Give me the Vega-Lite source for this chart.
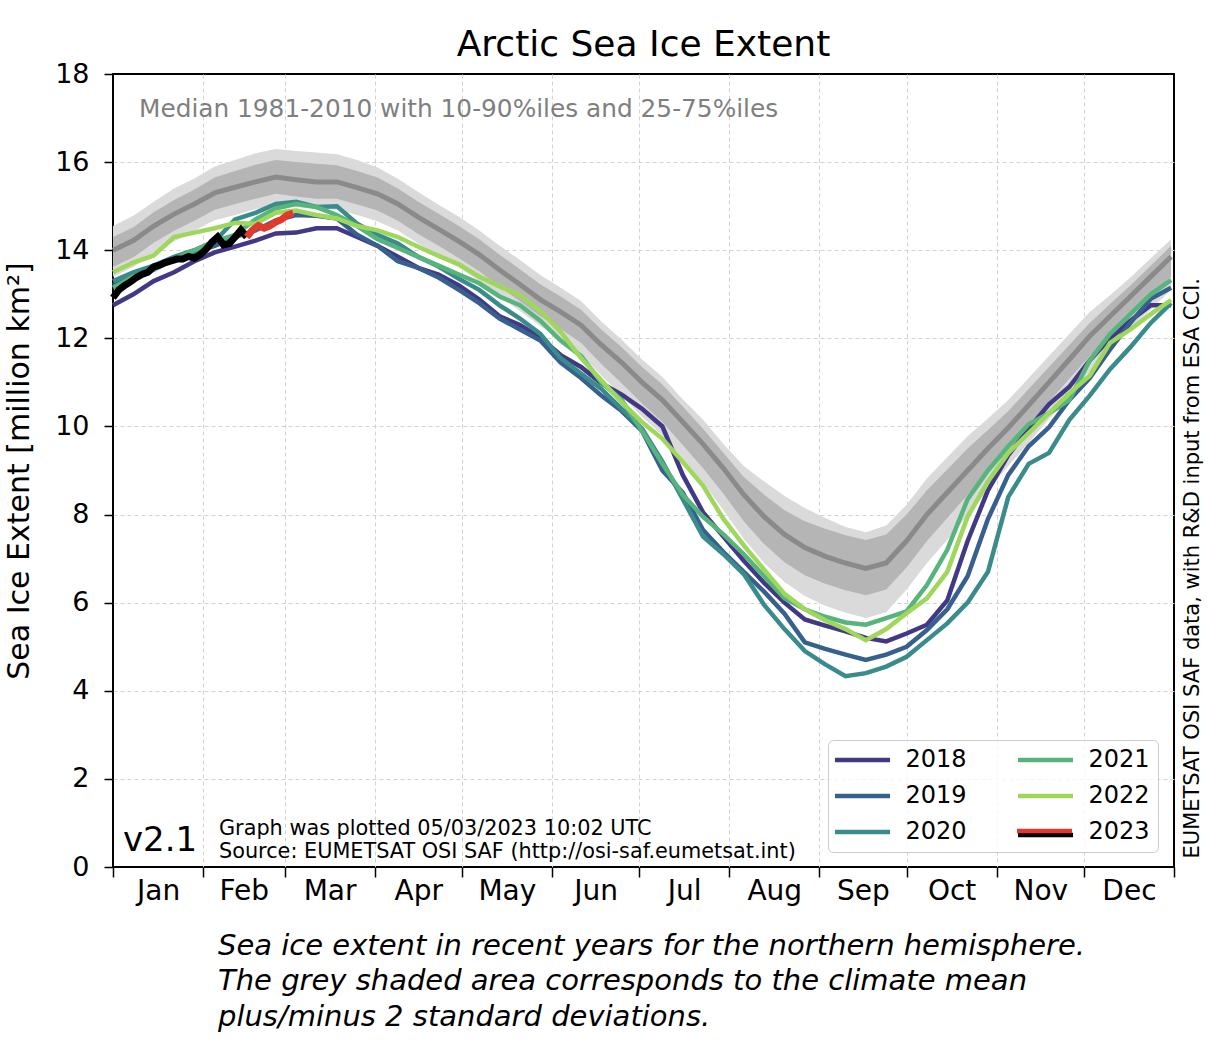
{
  "$schema": "https://vega.github.io/schema/vega-lite/v6.json",
  "width": 1061,
  "height": 793,
  "autosize": {"type": "none"},
  "padding": {"left": 113, "top": 74, "right": 38, "bottom": 191},
  "background": "white",
  "title": {"text": "Arctic Sea Ice Extent", "fontSize": 36, "fontWeight": "normal", "font": "DejaVu Sans", "color": "black", "anchor": "middle", "frame": "group", "offset": -4},
  "config": {
    "font": "DejaVu Sans",
    "view": {"stroke": "black", "strokeWidth": 2},
    "axis": {"labelFont": "DejaVu Sans", "titleFont": "DejaVu Sans"},
    "legend": {"labelFont": "DejaVu Sans"}
  },
  "datasets": {
    "climate": [
      {"d": 1, "p10": 13.4, "p25": 13.62, "med": 14.0, "p75": 14.3, "p90": 14.55},
      {"d": 8, "p10": 13.62, "p25": 13.84, "med": 14.22, "p75": 14.52, "p90": 14.78},
      {"d": 15, "p10": 13.93, "p25": 14.17, "med": 14.55, "p75": 14.86, "p90": 15.1},
      {"d": 22, "p10": 14.2, "p25": 14.44, "med": 14.82, "p75": 15.14, "p90": 15.4},
      {"d": 29, "p10": 14.44, "p25": 14.67, "med": 15.05, "p75": 15.38, "p90": 15.63},
      {"d": 36, "p10": 14.68, "p25": 14.92, "med": 15.3, "p75": 15.65, "p90": 15.9},
      {"d": 43, "p10": 14.8, "p25": 15.05, "med": 15.43, "p75": 15.8, "p90": 16.05},
      {"d": 50, "p10": 14.93, "p25": 15.17, "med": 15.55, "p75": 15.94, "p90": 16.2},
      {"d": 57, "p10": 15.04, "p25": 15.28, "med": 15.66, "p75": 16.05, "p90": 16.3},
      {"d": 64, "p10": 14.98, "p25": 15.22, "med": 15.6, "p75": 16.0, "p90": 16.25},
      {"d": 71, "p10": 14.93, "p25": 15.17, "med": 15.55, "p75": 15.96, "p90": 16.22},
      {"d": 78, "p10": 14.92, "p25": 15.17, "med": 15.55, "p75": 15.93, "p90": 16.18},
      {"d": 85, "p10": 14.8, "p25": 15.04, "med": 15.42, "p75": 15.8, "p90": 16.05},
      {"d": 92, "p10": 14.66, "p25": 14.9, "med": 15.28, "p75": 15.65, "p90": 15.88},
      {"d": 99, "p10": 14.45, "p25": 14.67, "med": 15.05, "p75": 15.4, "p90": 15.62},
      {"d": 106, "p10": 14.15, "p25": 14.37, "med": 14.75, "p75": 15.1, "p90": 15.32},
      {"d": 113, "p10": 13.88, "p25": 14.1, "med": 14.48, "p75": 14.83, "p90": 15.03},
      {"d": 120, "p10": 13.6, "p25": 13.82, "med": 14.2, "p75": 14.55, "p90": 14.76},
      {"d": 127, "p10": 13.3, "p25": 13.52, "med": 13.9, "p75": 14.25, "p90": 14.45},
      {"d": 134, "p10": 12.95, "p25": 13.17, "med": 13.55, "p75": 13.9, "p90": 14.1},
      {"d": 141, "p10": 12.62, "p25": 12.84, "med": 13.22, "p75": 13.57, "p90": 13.78},
      {"d": 148, "p10": 12.28, "p25": 12.5, "med": 12.88, "p75": 13.23, "p90": 13.44},
      {"d": 155, "p10": 11.98, "p25": 12.21, "med": 12.6, "p75": 12.95, "p90": 13.15},
      {"d": 162, "p10": 11.65, "p25": 11.9, "med": 12.3, "p75": 12.65, "p90": 12.85},
      {"d": 169, "p10": 11.15, "p25": 11.42, "med": 11.85, "p75": 12.2, "p90": 12.38},
      {"d": 176, "p10": 10.7, "p25": 10.98, "med": 11.45, "p75": 11.8, "p90": 11.97},
      {"d": 183, "p10": 10.22, "p25": 10.52, "med": 11.0, "p75": 11.35, "p90": 11.52},
      {"d": 190, "p10": 9.8, "p25": 10.1, "med": 10.6, "p75": 10.95, "p90": 11.12},
      {"d": 197, "p10": 9.28, "p25": 9.58, "med": 10.1, "p75": 10.45, "p90": 10.62},
      {"d": 204, "p10": 8.72, "p25": 9.05, "med": 9.6, "p75": 9.95, "p90": 10.15},
      {"d": 211, "p10": 8.1, "p25": 8.47, "med": 9.05, "p75": 9.4, "p90": 9.6},
      {"d": 218, "p10": 7.45, "p25": 7.85, "med": 8.45, "p75": 8.85, "p90": 9.1},
      {"d": 225, "p10": 6.9, "p25": 7.33, "med": 7.95, "p75": 8.45, "p90": 8.75},
      {"d": 232, "p10": 6.47, "p25": 6.92, "med": 7.55, "p75": 8.1, "p90": 8.42},
      {"d": 239, "p10": 6.15, "p25": 6.62, "med": 7.25, "p75": 7.85, "p90": 8.15},
      {"d": 246, "p10": 5.93, "p25": 6.43, "med": 7.05, "p75": 7.68, "p90": 7.92},
      {"d": 253, "p10": 5.77, "p25": 6.28, "med": 6.9, "p75": 7.53, "p90": 7.72},
      {"d": 260, "p10": 5.65, "p25": 6.17, "med": 6.78, "p75": 7.42, "p90": 7.6},
      {"d": 267, "p10": 5.78, "p25": 6.3, "med": 6.9, "p75": 7.55, "p90": 7.75},
      {"d": 274, "p10": 6.3, "p25": 6.8, "med": 7.4, "p75": 8.0, "p90": 8.22},
      {"d": 281, "p10": 6.9, "p25": 7.4, "med": 8.0, "p75": 8.55, "p90": 8.82},
      {"d": 288, "p10": 7.42, "p25": 7.92, "med": 8.5, "p75": 9.02, "p90": 9.3},
      {"d": 295, "p10": 7.98, "p25": 8.45, "med": 9.0, "p75": 9.5, "p90": 9.78},
      {"d": 302, "p10": 8.55, "p25": 9.0, "med": 9.5, "p75": 9.92, "p90": 10.18},
      {"d": 309, "p10": 9.1, "p25": 9.52, "med": 9.97, "p75": 10.35, "p90": 10.6},
      {"d": 316, "p10": 9.63, "p25": 10.03, "med": 10.48, "p75": 10.85, "p90": 11.1},
      {"d": 323, "p10": 10.17, "p25": 10.56, "med": 11.0, "p75": 11.35, "p90": 11.6},
      {"d": 330, "p10": 10.7, "p25": 11.08, "med": 11.52, "p75": 11.85, "p90": 12.1},
      {"d": 337, "p10": 11.25, "p25": 11.6, "med": 12.05, "p75": 12.35, "p90": 12.6},
      {"d": 344, "p10": 11.73, "p25": 12.05, "med": 12.5, "p75": 12.78, "p90": 12.98},
      {"d": 351, "p10": 12.2, "p25": 12.5, "med": 12.95, "p75": 13.2, "p90": 13.38},
      {"d": 358, "p10": 12.65, "p25": 12.95, "med": 13.4, "p75": 13.65, "p90": 13.82},
      {"d": 365, "p10": 13.1, "p25": 13.4, "med": 13.85, "p75": 14.1, "p90": 14.25}
    ],
    "years": [
      {"d": 1, "2018": 12.75, "2019": 13.2, "2020": 13.3, "2021": 13.15, "2022": 13.5},
      {"d": 8, "2018": 13.0, "2019": 13.4, "2020": 13.5, "2021": 13.4, "2022": 13.72},
      {"d": 15, "2018": 13.3, "2019": 13.58, "2020": 13.65, "2021": 13.55, "2022": 13.88},
      {"d": 22, "2018": 13.5, "2019": 13.78, "2020": 13.85, "2021": 13.8, "2022": 14.3},
      {"d": 29, "2018": 13.75, "2019": 13.95, "2020": 14.0, "2021": 14.0, "2022": 14.4},
      {"d": 36, "2018": 13.95, "2019": 14.1, "2020": 14.2, "2021": 14.2, "2022": 14.5},
      {"d": 43, "2018": 14.08, "2019": 14.3, "2020": 14.7, "2021": 14.35, "2022": 14.62},
      {"d": 50, "2018": 14.22, "2019": 14.45, "2020": 14.85, "2021": 14.7, "2022": 14.6},
      {"d": 57, "2018": 14.38, "2019": 14.68, "2020": 15.05, "2021": 14.95, "2022": 14.85},
      {"d": 64, "2018": 14.4, "2019": 14.8, "2020": 15.1, "2021": 15.05, "2022": 14.9},
      {"d": 71, "2018": 14.5, "2019": 14.78, "2020": 14.98, "2021": 14.98, "2022": 14.8},
      {"d": 78, "2018": 14.5, "2019": 14.72, "2020": 15.0, "2021": 14.8, "2022": 14.72},
      {"d": 85, "2018": 14.3, "2019": 14.35, "2020": 14.6, "2021": 14.55, "2022": 14.55},
      {"d": 92, "2018": 14.1, "2019": 14.1, "2020": 14.35, "2021": 14.25, "2022": 14.45},
      {"d": 99, "2018": 13.85, "2019": 13.75, "2020": 14.15, "2021": 14.05, "2022": 14.3},
      {"d": 106, "2018": 13.6, "2019": 13.6, "2020": 13.85, "2021": 13.85, "2022": 14.08},
      {"d": 113, "2018": 13.45, "2019": 13.38, "2020": 13.63, "2021": 13.65, "2022": 13.87},
      {"d": 120, "2018": 13.2, "2019": 13.1, "2020": 13.35, "2021": 13.45, "2022": 13.68},
      {"d": 127, "2018": 12.88, "2019": 12.8, "2020": 13.1, "2021": 13.25, "2022": 13.4},
      {"d": 134, "2018": 12.5, "2019": 12.45, "2020": 12.75, "2021": 12.95, "2022": 13.18},
      {"d": 141, "2018": 12.3, "2019": 12.2, "2020": 12.45, "2021": 12.75, "2022": 12.98},
      {"d": 148, "2018": 12.02, "2019": 11.95, "2020": 12.1, "2021": 12.4, "2022": 12.62},
      {"d": 155, "2018": 11.62, "2019": 11.45, "2020": 11.55, "2021": 11.95, "2022": 12.15},
      {"d": 162, "2018": 11.35, "2019": 11.1, "2020": 11.2, "2021": 11.6, "2022": 11.55},
      {"d": 169, "2018": 10.98, "2019": 10.7, "2020": 10.85, "2021": 11.0, "2022": 11.05},
      {"d": 176, "2018": 10.72, "2019": 10.35, "2020": 10.4, "2021": 10.6, "2022": 10.55},
      {"d": 183, "2018": 10.4, "2019": 9.9, "2020": 9.95, "2021": 9.9, "2022": 10.1},
      {"d": 190, "2018": 10.0, "2019": 9.0, "2020": 9.2, "2021": 9.15, "2022": 9.72},
      {"d": 197, "2018": 8.9, "2019": 8.5, "2020": 8.35, "2021": 8.45, "2022": 9.2},
      {"d": 204, "2018": 8.05, "2019": 7.65, "2020": 7.5, "2021": 7.95, "2022": 8.65},
      {"d": 211, "2018": 7.5, "2019": 7.15, "2020": 7.1, "2021": 7.55, "2022": 7.9},
      {"d": 218, "2018": 6.95, "2019": 6.7, "2020": 6.65, "2021": 7.1, "2022": 7.3},
      {"d": 225, "2018": 6.45, "2019": 6.25, "2020": 5.95, "2021": 6.6, "2022": 6.75},
      {"d": 232, "2018": 6.0, "2019": 5.75, "2020": 5.4, "2021": 6.1, "2022": 6.2},
      {"d": 239, "2018": 5.62, "2019": 5.1, "2020": 4.9, "2021": 5.85, "2022": 5.85},
      {"d": 246, "2018": 5.48, "2019": 4.95, "2020": 4.6, "2021": 5.68, "2022": 5.6},
      {"d": 253, "2018": 5.35, "2019": 4.82, "2020": 4.33, "2021": 5.55, "2022": 5.4},
      {"d": 260, "2018": 5.2, "2019": 4.7, "2020": 4.4, "2021": 5.5, "2022": 5.15},
      {"d": 267, "2018": 5.12, "2019": 4.82, "2020": 4.55, "2021": 5.65, "2022": 5.4},
      {"d": 274, "2018": 5.3, "2019": 5.0, "2020": 4.77, "2021": 5.8, "2022": 5.76},
      {"d": 281, "2018": 5.5, "2019": 5.38, "2020": 5.15, "2021": 6.4, "2022": 6.1},
      {"d": 288, "2018": 6.05, "2019": 5.85, "2020": 5.53, "2021": 7.2, "2022": 6.7},
      {"d": 295, "2018": 7.4, "2019": 6.6, "2020": 6.0, "2021": 8.35, "2022": 7.95},
      {"d": 302, "2018": 8.55, "2019": 7.9, "2020": 6.7, "2021": 9.0, "2022": 8.75},
      {"d": 309, "2018": 9.35, "2019": 8.9, "2020": 8.4, "2021": 9.55, "2022": 9.4},
      {"d": 316, "2018": 9.95, "2019": 9.55, "2020": 9.15, "2021": 10.05, "2022": 9.85},
      {"d": 323, "2018": 10.5, "2019": 9.98, "2020": 9.4, "2021": 10.3, "2022": 10.3},
      {"d": 330, "2018": 10.9, "2019": 10.6, "2020": 10.15, "2021": 10.6, "2022": 10.75},
      {"d": 337, "2018": 11.5, "2019": 11.1, "2020": 10.7, "2021": 11.5, "2022": 11.15},
      {"d": 344, "2018": 12.0, "2019": 11.75, "2020": 11.3, "2021": 12.1, "2022": 11.9},
      {"d": 351, "2018": 12.4, "2019": 12.35, "2020": 11.8, "2021": 12.55, "2022": 12.2},
      {"d": 358, "2018": 12.75, "2019": 12.9, "2020": 12.35, "2021": 13.0, "2022": 12.55},
      {"d": 365, "2018": 12.75, "2019": 13.15, "2020": 12.8, "2021": 13.32, "2022": 12.87}
    ],
    "y2023": [
      {"d": 1, "v": 12.92}, {"d": 3, "v": 13.1}, {"d": 5, "v": 13.2}, {"d": 7, "v": 13.28},
      {"d": 9, "v": 13.38}, {"d": 11, "v": 13.45}, {"d": 13, "v": 13.5}, {"d": 15, "v": 13.62},
      {"d": 17, "v": 13.66}, {"d": 19, "v": 13.72}, {"d": 21, "v": 13.76}, {"d": 23, "v": 13.8},
      {"d": 25, "v": 13.8}, {"d": 27, "v": 13.86}, {"d": 29, "v": 13.82}, {"d": 31, "v": 13.9},
      {"d": 33, "v": 14.02}, {"d": 35, "v": 14.18}, {"d": 37, "v": 14.3}, {"d": 39, "v": 14.12},
      {"d": 41, "v": 14.15}, {"d": 43, "v": 14.3}, {"d": 45, "v": 14.46}, {"d": 47, "v": 14.3}
    ],
    "y2023nrt": [
      {"d": 47, "v": 14.3, "run": "2023 "}, {"d": 49, "v": 14.46, "run": "2023 "},
      {"d": 51, "v": 14.56, "run": "2023 "}, {"d": 53, "v": 14.5, "run": "2023 "},
      {"d": 55, "v": 14.55, "run": "2023 "}, {"d": 57, "v": 14.64, "run": "2023 "},
      {"d": 59, "v": 14.7, "run": "2023 "}, {"d": 61, "v": 14.8, "run": "2023 "},
      {"d": 63, "v": 14.84, "run": "2023 "}
    ]
  },
  "layer": [
    {
      "data": {"name": "climate"},
      "mark": {"type": "area", "color": "#dadada", "opacity": 1},
      "encoding": {
        "x": {
          "field": "d", "type": "quantitative",
          "scale": {"domain": [1, 366], "nice": false, "zero": false},
          "axis": {
            "orient": "bottom",
            "values": [1, 32, 60, 91, 121, 152, 182, 213, 244, 274, 305, 335, 366],
            "labels": false, "ticks": true, "tickSize": 10, "tickWidth": 1.5, "tickColor": "black",
            "domain": false, "grid": true, "gridDash": [4, 3], "gridColor": "#d2d2d2", "gridWidth": 1,
            "gridOpacity": {"condition": {"test": "datum.value <= 1 || datum.value >= 366", "value": 0}, "value": 1},
            "title": null
          }
        },
        "y": {
          "field": "p10", "type": "quantitative",
          "scale": {"domain": [0, 18], "nice": false, "zero": false},
          "axis": {
            "orient": "left",
            "values": [0, 2, 4, 6, 8, 10, 12, 14, 16, 18],
            "tickSize": 9, "tickWidth": 1.5, "tickColor": "black",
            "labelFontSize": 27, "labelColor": "black", "labelPadding": 15,
            "domain": false, "grid": true, "gridDash": [4, 3], "gridColor": "#d2d2d2", "gridWidth": 1,
            "gridOpacity": {"condition": {"test": "datum.value <= 0 || datum.value >= 18", "value": 0}, "value": 1},
            "title": "Sea Ice Extent [million km²]", "titleFontSize": 30, "titleFontWeight": "normal",
            "titleColor": "black", "titlePadding": 20
          }
        },
        "y2": {"field": "p90"}
      }
    },
    {
      "data": {"name": "climate"},
      "mark": {"type": "area", "color": "#b5b5b5", "opacity": 1},
      "encoding": {
        "x": {"field": "d", "type": "quantitative", "scale": {"domain": [1, 366], "nice": false, "zero": false}, "axis": null},
        "y": {"field": "p25", "type": "quantitative", "scale": {"domain": [0, 18], "nice": false, "zero": false}, "axis": null},
        "y2": {"field": "p75"}
      }
    },
    {
      "data": {"name": "climate"},
      "mark": {"type": "line", "color": "#8a8a8a", "strokeWidth": 5},
      "encoding": {
        "x": {
          "field": "d", "type": "quantitative",
          "scale": {"domain": [1, 366], "nice": false, "zero": false},
          "axis": {
            "orient": "bottom",
            "values": [16.5, 46, 75.5, 106, 136.5, 167, 197.5, 228.5, 259, 289.5, 320, 350.5],
            "labelExpr": "timeFormat(datetime(2021, 0, datum.value), '%b')",
            "ticks": false, "domain": false, "grid": false,
            "labelFontSize": 28, "labelColor": "black", "labelPadding": 10,
            "labelFlush": false, "labelOverlap": false, "title": null
          }
        },
        "y": {
          "field": "med", "type": "quantitative",
          "scale": {"domain": [0, 18], "nice": false, "zero": false},
          "axis": {
            "orient": "right", "labels": false, "ticks": false, "domain": false, "grid": false,
            "title": "EUMETSAT OSI SAF data, with R&D input from ESA CCI.",
            "titleAngle": 270, "titleFontSize": 21, "titleFontWeight": "normal", "titleColor": "black",
            "titleAnchor": "start", "titlePadding": 28, "titleY": 784
          }
        }
      }
    },
    {
      "data": {"name": "years"},
      "transform": [{"fold": ["2018", "2019", "2020", "2021", "2022"], "as": ["yr", "v"]}],
      "mark": {"type": "line", "strokeWidth": 4.5},
      "encoding": {
        "x": {"field": "d", "type": "quantitative", "scale": {"domain": [1, 366], "nice": false, "zero": false}, "axis": null},
        "y": {"field": "v", "type": "quantitative", "scale": {"domain": [0, 18], "nice": false, "zero": false}, "axis": null},
        "color": {
          "field": "yr", "type": "nominal",
          "scale": {
            "domain": ["2018", "2019", "2020", "2021", "2022", "2023"],
            "range": ["#413985", "#37608e", "#3a8b8b", "#58b47d", "#9fd75c", "#000000"]
          },
          "legend": {
            "orient": "none", "legendX": 715, "legendY": 666, "columns": 2, "title": null,
            "symbolSize": 100, "symbolStrokeWidth": 4.5, "symbolOffset": 14.5,
            "labelOffset": 31, "labelFontSize": 24, "labelColor": "black",
            "rowPadding": 12, "columnPadding": 42, "padding": 8,
            "fillColor": "rgba(255,255,255,0.8)", "strokeColor": "#cccccc", "cornerRadius": 5,
            "encode": {"symbols": {"update": {"shape": {"signal": "datum.value === '2023' ? 'M-5.5,0.6H5.5' : 'M-5.5,0H5.5'"}}}}
          }
        }
      }
    },
    {
      "data": {"name": "y2023"},
      "mark": {"type": "line", "strokeWidth": 7},
      "encoding": {
        "x": {"field": "d", "type": "quantitative", "scale": {"domain": [1, 366], "nice": false, "zero": false}, "axis": null},
        "y": {"field": "v", "type": "quantitative", "scale": {"domain": [0, 18], "nice": false, "zero": false}, "axis": null},
        "color": {"datum": "2023", "type": "nominal"}
      }
    },
    {
      "data": {"name": "y2023nrt"},
      "mark": {"type": "line", "strokeWidth": 7},
      "encoding": {
        "x": {"field": "d", "type": "quantitative", "scale": {"domain": [1, 366], "nice": false, "zero": false}, "axis": null},
        "y": {"field": "v", "type": "quantitative", "scale": {"domain": [0, 18], "nice": false, "zero": false}, "axis": null},
        "stroke": {
          "field": "run", "type": "nominal",
          "scale": {"domain": ["2023 "], "range": ["#e23a2a"]},
          "legend": {
            "orient": "none", "legendX": 897, "legendY": 743, "title": null, "zindex": 2,
            "symbolSize": 100, "symbolStrokeWidth": 4.5, "symbolOffset": 14.5, "symbolType": "M-5.5,-1.2H5.5",
            "labelExpr": "''", "labelOffset": 31, "labelFontSize": 24, "padding": 8
          }
        }
      }
    },
    {
      "data": {"values": [{"d": 9.94, "v": 17.02, "t": "Median 1981-2010 with 10-90%iles and 25-75%iles"}]},
      "mark": {"type": "text", "align": "left", "baseline": "alphabetic", "fontSize": 24.8, "color": "#7f7f7f"},
      "encoding": {
        "x": {"field": "d", "type": "quantitative", "scale": {"domain": [1, 366], "nice": false, "zero": false}, "axis": null},
        "y": {"field": "v", "type": "quantitative", "scale": {"domain": [0, 18], "nice": false, "zero": false}, "axis": null},
        "text": {"field": "t"}
      }
    },
    {
      "data": {"values": [{"d": 4.44, "v": 0.36, "t": "v2.1"}]},
      "mark": {"type": "text", "align": "left", "baseline": "alphabetic", "fontSize": 34, "color": "black"},
      "encoding": {
        "x": {"field": "d", "type": "quantitative", "scale": {"domain": [1, 366], "nice": false, "zero": false}, "axis": null},
        "y": {"field": "v", "type": "quantitative", "scale": {"domain": [0, 18], "nice": false, "zero": false}, "axis": null},
        "text": {"field": "t"}
      }
    },
    {
      "data": {"values": [
        {"d": 37.46, "v": 0.726, "t": "Graph was plotted 05/03/2023 10:02 UTC"},
        {"d": 37.46, "v": 0.204, "t": "Source: EUMETSAT OSI SAF (http://osi-saf.eumetsat.int)"}
      ]},
      "mark": {"type": "text", "align": "left", "baseline": "alphabetic", "fontSize": 20.8, "color": "black"},
      "encoding": {
        "x": {"field": "d", "type": "quantitative", "scale": {"domain": [1, 366], "nice": false, "zero": false}, "axis": null},
        "y": {"field": "v", "type": "quantitative", "scale": {"domain": [0, 18], "nice": false, "zero": false}, "axis": null},
        "text": {"field": "t"}
      }
    },
    {
      "data": {"values": [
        {"d": 37.12, "v": -2.0, "t": "Sea ice extent in recent years for the northern hemisphere."},
        {"d": 37.12, "v": -2.79, "t": "The grey shaded area corresponds to the climate mean"},
        {"d": 37.12, "v": -3.61, "t": "plus/minus 2 standard deviations."}
      ]},
      "mark": {"type": "text", "align": "left", "baseline": "alphabetic", "fontSize": 29, "fontStyle": "italic", "color": "black"},
      "encoding": {
        "x": {"field": "d", "type": "quantitative", "scale": {"domain": [1, 366], "nice": false, "zero": false}, "axis": null},
        "y": {"field": "v", "type": "quantitative", "scale": {"domain": [0, 18], "nice": false, "zero": false}, "axis": null},
        "text": {"field": "t"}
      }
    }
  ],
  "resolve": {"axis": {"x": "independent", "y": "independent"}}
}
